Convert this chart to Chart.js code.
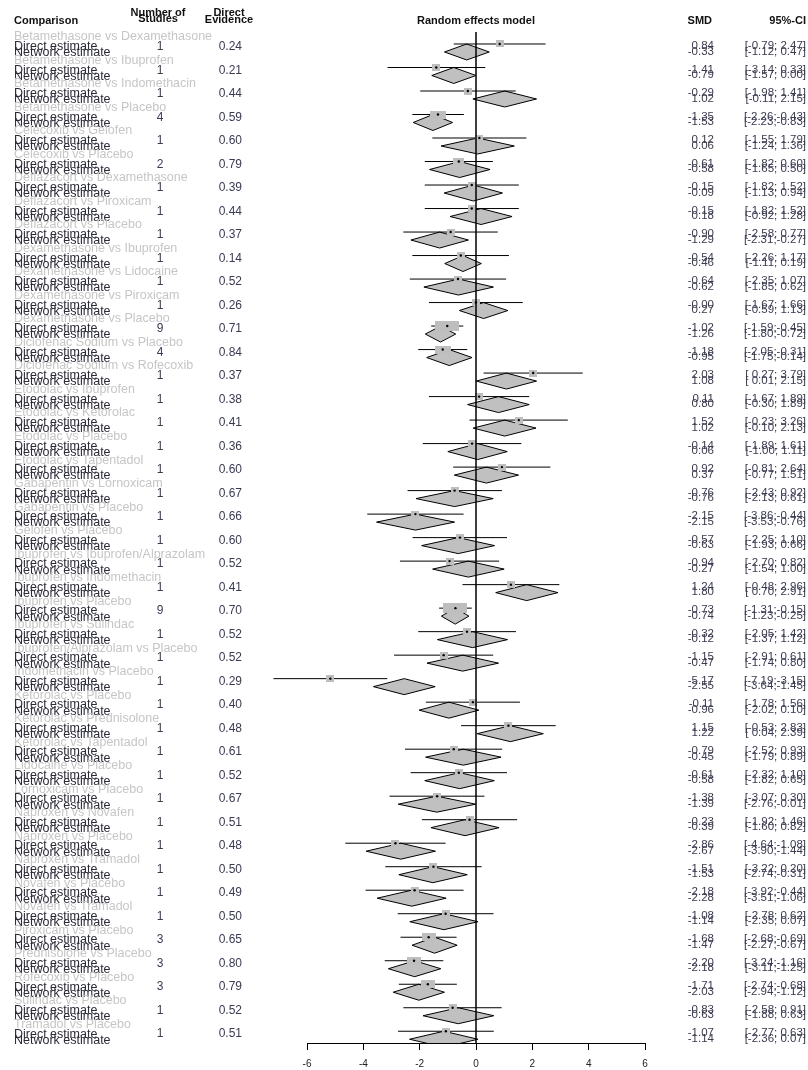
<!DOCTYPE html>
<html>
<head>
<meta charset="utf-8">
<script src="https://cdn.jsdelivr.net/npm/chart.js@4.4.1/dist/chart.umd.min.js"></script>
<style>
  html, body { margin: 0; padding: 0; background: #fff; }
  #wrap { width: 808px; height: 1070px; }
</style>
</head>
<body>
<div id="wrap"><canvas id="forest"></canvas></div>
<script>
// values
const comparisons = [
  'Betamethasone vs Dexamethasone', 'Betamethasone vs Ibuprofen', 'Betamethasone vs Indomethacin',
  'Betamethasone vs Placebo', 'Celecoxib vs Gelofen', 'Celecoxib vs Placebo',
  'Deflazacort vs Dexamethasone', 'Deflazacort vs Piroxicam', 'Deflazacort vs Placebo',
  'Dexamethasone vs Ibuprofen', 'Dexamethasone vs Lidocaine', 'Dexamethasone vs Piroxicam',
  'Dexamethasone vs Placebo', 'Diclofenac Sodium vs Placebo', 'Diclofenac Sodium vs Rofecoxib',
  'Etodolac vs Ibuprofen', 'Etodolac vs Ketorolac', 'Etodolac vs Placebo', 'Etodolac vs Tapentadol',
  'Gabapentin vs Lornoxicam', 'Gabapentin vs Placebo', 'Gelofen vs Placebo',
  'Ibuprofen vs Ibuprofen/Alprazolam', 'Ibuprofen vs Indomethacin', 'Ibuprofen vs Placebo',
  'Ibuprofen vs Sulindac', 'Ibuprofen/Alprazolam vs Placebo', 'Indomethacin vs Placebo',
  'Ketorolac vs Placebo', 'Ketorolac vs Prednisolone', 'Ketorolac vs Tapentadol',
  'Lidocaine vs Placebo', 'Lornoxicam vs Placebo', 'Naproxen vs Novafen', 'Naproxen vs Placebo',
  'Naproxen vs Tramadol', 'Novafen vs Placebo', 'Novafen vs Tramadol', 'Piroxicam vs Placebo',
  'Prednisolone vs Placebo', 'Rofecoxib vs Placebo', 'Sulindac vs Placebo', 'Tramadol vs Placebo'
];
const nStudies = [1,1,1,4,1,2,1,1,1,1,1,1,9,4,1,1,1,1,1,1,1,1,1,1,9,1,1,1,1,1,1,1,1,1,1,1,1,1,3,3,3,1,1];
const directEvidence = [0.24,0.21,0.44,0.59,0.60,0.79,0.39,0.44,0.37,0.14,0.52,0.26,0.71,0.84,0.37,0.38,0.41,0.36,0.60,0.67,0.66,0.60,0.52,0.41,0.70,0.52,0.52,0.29,0.40,0.48,0.61,0.52,0.67,0.51,0.48,0.50,0.49,0.50,0.65,0.80,0.79,0.52,0.51];

const directSMD = [0.84,-1.41,-0.29,-1.35,0.12,-0.61,-0.15,-0.15,-0.90,-0.54,-0.64,-0.004,-1.02,-1.18,2.03,0.11,1.52,-0.14,0.92,-0.76,-2.15,-0.57,-0.94,1.24,-0.73,-0.32,-1.15,-5.17,-0.11,1.15,-0.79,-0.61,-1.38,-0.23,-2.86,-1.51,-2.18,-1.08,-1.68,-2.20,-1.71,-0.83,-1.07];
const directLower = [-0.79,-3.14,-1.98,-2.26,-1.55,-1.82,-1.82,-1.82,-2.58,-2.26,-2.35,-1.67,-1.59,-2.05,0.27,-1.67,-0.23,-1.89,-0.81,-2.43,-3.86,-2.25,-2.70,-0.48,-1.31,-2.05,-2.91,-7.19,-1.78,-0.53,-2.52,-2.32,-3.07,-1.92,-4.64,-3.22,-3.92,-2.78,-2.68,-3.24,-2.74,-2.58,-2.77];
const directUpper = [2.47,0.33,1.41,-0.43,1.79,0.60,1.52,1.52,0.77,1.17,1.07,1.66,-0.45,-0.31,3.79,1.89,3.26,1.61,2.64,0.92,-0.44,1.10,0.82,2.96,-0.15,1.42,0.61,-3.15,1.56,2.83,0.93,1.10,0.30,1.46,-1.08,0.20,-0.44,0.62,-0.69,-1.16,-0.68,0.91,0.63];

const networkSMD = [-0.33,-0.79,1.02,-1.53,0.06,-0.58,-0.09,0.18,-1.29,-0.46,-0.62,0.27,-1.26,-0.95,1.08,0.80,1.02,0.06,0.37,-0.76,-2.15,-0.63,-0.27,1.80,-0.74,-0.12,-0.47,-2.55,-0.96,1.22,-0.45,-0.58,-1.39,-0.39,-2.67,-1.53,-2.28,-1.14,-1.47,-2.18,-2.03,-0.63,-1.14];
const networkLower = [-1.12,-1.57,-0.11,-2.23,-1.24,-1.65,-1.13,-0.92,-2.31,-1.11,-1.85,-0.59,-1.80,-1.75,0.01,-0.30,-0.10,-1.00,-0.77,-2.13,-3.53,-1.93,-1.54,0.70,-1.23,-1.37,-1.74,-3.64,-2.02,0.04,-1.79,-1.82,-2.76,-1.60,-3.90,-2.74,-3.51,-2.35,-2.27,-3.11,-2.94,-1.88,-2.36];
const networkUpper = [0.47,0.00,2.15,-0.83,1.36,0.50,0.94,1.28,-0.27,0.19,0.62,1.13,-0.72,-0.14,2.15,1.89,2.13,1.11,1.51,0.61,-0.76,0.66,1.00,2.91,-0.25,1.12,0.80,-1.45,0.10,2.39,0.89,0.65,-0.01,0.82,-1.44,-0.31,-1.06,0.07,-0.67,-1.25,-1.12,0.63,0.07];

const axisTicks = [-6, -4, -2, 0, 2, 4, 6];

// layout
const NET = 0.34;          // network row offset (in row units)
const DIAMOND_H = 0.34;    // half height of diamond
const FONT = '"Liberation Sans", Arial, sans-serif';

function fmt(v) {
  const s = v.toFixed(2);
  return s.charAt(0) === '-' ? s : ' ' + s;
}
function ci(lo, hi) {
  return '[' + fmt(lo) + ';' + fmt(hi) + ']';
}

function boxImage(n) {
  const w = Math.round(8 * Math.sqrt(n));
  const h = Math.round(5 + 1.5 * Math.sqrt(n));
  const c = document.createElement('canvas');
  c.width = w; c.height = h;
  const g = c.getContext('2d');
  g.fillStyle = '#bebebe';
  g.fillRect(0, 0, w, h);
  return c;
}
const boxes = nStudies.map(boxImage);

const whiskerData = [];
comparisons.forEach((c, i) => {
  whiskerData.push({x: directLower[i], y: i}, {x: directUpper[i], y: i}, {x: null, y: null});
});

const diamondSets = comparisons.map((c, i) => ({
  data: [
    {x: networkLower[i], y: i + NET},
    {x: networkSMD[i], y: i + NET - DIAMOND_H},
    {x: networkUpper[i], y: i + NET},
    {x: networkSMD[i], y: i + NET + DIAMOND_H},
    {x: networkLower[i], y: i + NET}
  ],
  borderColor: '#000',
  borderWidth: 1,
  backgroundColor: '#c0c0c0',
  fill: 'shape',
  pointRadius: 0,
  tension: 0
}));

const yMin = -0.51, yMax = 42.5;

const textPlugin = {
  id: 'forestText',
  afterDraw(chart) {
    const {ctx} = chart;
    const x = chart.scales.x, y = chart.scales.y;
    ctx.save();
    ctx.textBaseline = 'middle';

    // column heads
    ctx.fillStyle = '#111';
    ctx.font = 'bold 11px ' + FONT;
    ctx.textAlign = 'left';
    ctx.fillText('Comparison', 14, 21);
    ctx.textAlign = 'center';
    ctx.fillText('Number of', 158, 13);
    ctx.fillText('Studies', 158, 19);
    ctx.fillText('Direct', 229, 13);
    ctx.fillText('Evidence', 229, 20);
    ctx.fillText('Random effects model', x.getPixelForValue(0), 21);
    ctx.textAlign = 'right';
    ctx.fillText('SMD', 712, 21);
    ctx.fillText('95%-CI', 806, 21);

    comparisons.forEach((name, i) => {
      ctx.font = '12.5px ' + FONT;
      ctx.textAlign = 'left';
      ctx.fillStyle = '#c6c6c6';
      ctx.fillText(name, 14, y.getPixelForValue(i - 0.3));
      ctx.fillStyle = '#2b2b38';
      ctx.fillText('Direct estimate', 14, y.getPixelForValue(i + 0.12));
      ctx.fillText('Network estimate', 14, y.getPixelForValue(i + 0.38));

      ctx.fillStyle = '#3a3a55';
      ctx.font = '12px ' + FONT;
      ctx.textAlign = 'center';
      ctx.fillText(String(nStudies[i]), 160, y.getPixelForValue(i + 0.12));
      ctx.textAlign = 'right';
      ctx.fillText(directEvidence[i].toFixed(2), 242, y.getPixelForValue(i + 0.12));

      ctx.fillStyle = '#3a3a50';
      ctx.font = '11.5px ' + FONT;
      ctx.fillText(fmt(directSMD[i]), 714, y.getPixelForValue(i + 0.08));
      ctx.fillText(fmt(networkSMD[i]), 714, y.getPixelForValue(i + 0.32));
      ctx.fillText(ci(directLower[i], directUpper[i]), 806, y.getPixelForValue(i + 0.08));
      ctx.fillText(ci(networkLower[i], networkUpper[i]), 806, y.getPixelForValue(i + 0.32));
    });
    ctx.restore();
  }
};

new Chart(document.getElementById('forest'), {
  type: 'line',
  data: {
    datasets: [
      {
        // line of no effect
        data: [{x: 0, y: yMin}, {x: 0, y: yMax}],
        borderColor: '#000', borderWidth: 1.5, pointRadius: 0
      },
      {
        // direct estimate centre marks
        data: directSMD.map((v, i) => ({x: v, y: i})),
        showLine: false, pointRadius: 1.2, pointBackgroundColor: '#000', pointBorderWidth: 0
      },
      {
        // direct estimate boxes
        data: directSMD.map((v, i) => ({x: v, y: i})),
        showLine: false, pointRadius: 3,
        pointStyle: (ctx) => boxes[ctx.dataIndex]
      },
      {
        // direct confidence intervals
        data: whiskerData,
        borderColor: '#000', borderWidth: 1, pointRadius: 0, spanGaps: false, clip: false
      },
      ...diamondSets
    ]
  },
  options: {
    responsive: true,
    maintainAspectRatio: false,
    animation: false,
    layout: { padding: { left: 307, right: 163, top: 32, bottom: -8 } },
    plugins: { legend: { display: false }, tooltip: { enabled: false } },
    scales: {
      x: {
        type: 'linear',
        min: -6, max: 6,
        afterBuildTicks: (scale) => { scale.ticks = axisTicks.map(v => ({value: v})); },
        grid: { display: true, drawOnChartArea: false, drawTicks: true, tickLength: 7, color: '#000', lineWidth: 1 },
        border: { display: true, color: '#000', width: 1 },
        ticks: { color: '#222', font: { size: 10, family: FONT }, padding: 8 }
      },
      y: {
        type: 'linear',
        reverse: true,
        min: yMin, max: yMax,
        display: false
      }
    }
  },
  plugins: [textPlugin]
});
</script>
</body>
</html>
